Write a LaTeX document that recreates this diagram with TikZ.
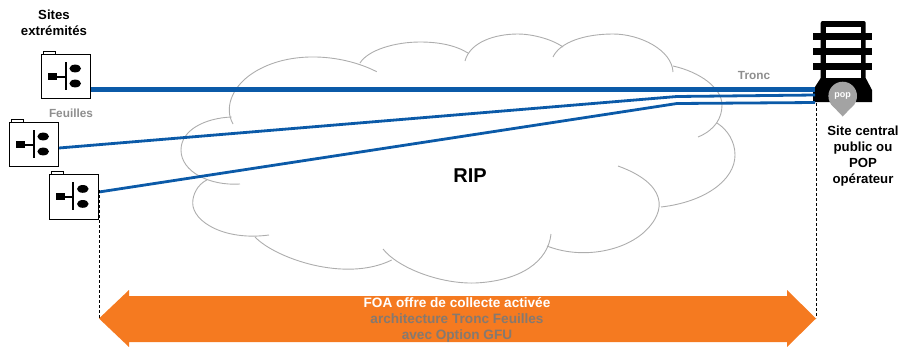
\documentclass[tikz,border=0pt]{standalone}
\usepackage{fontspec}
\setmainfont{Liberation Sans}
\usetikzlibrary{calc}
\definecolor{linkblue}{HTML}{0B5AA8}
\definecolor{cloudgray}{HTML}{ADADAD}
\definecolor{labelgray}{HTML}{8E8E8E}
\definecolor{popgray}{HTML}{A3A3A3}
\definecolor{arroworange}{HTML}{F57A20}
\definecolor{arrowtext}{HTML}{857970}
\tikzset{
  cloudarc/.style={draw=cloudgray,line width=0.9pt},
  trunkline/.style={draw=linkblue,line width=5pt},
  leafline/.style={draw=linkblue,line width=2.8pt,line join=round},
  guide/.style={draw=black,line width=0.8pt,dash pattern=on 3pt off 2pt},
  boldlabel/.style={font=\bfseries\fontsize{13.2}{16}\selectfont,align=center,inner sep=0pt,text=black},
  graylabel/.style={font=\bfseries\fontsize{11.8}{14}\selectfont,inner sep=0pt,text=labelgray},
  bandtext/.style={font=\bfseries\fontsize{13.6}{15}\selectfont,inner sep=0pt},
  sitebox/.style={draw=black,line width=1pt,fill=white,minimum width=49pt,minimum height=44.4pt,inner sep=0pt},
  site/.pic={
    \node[sitebox] (-box) at (0,0) {};
    \draw[line width=0.9pt,fill=white] (-22.5,-22.2) rectangle (-10.5,-25.5);
    \fill[black] (-18,-3.8) rectangle (-9,3.2);
    \draw[black,line width=2pt] (-9,0) -- (0,0);
    \draw[black,line width=2pt] (-0.5,-14.5) -- (-0.5,13.5);
    \fill[black] (9,-8) ellipse (5.8pt and 3.9pt);
    \fill[black] (9,7) ellipse (5.8pt and 3.9pt);
  }
}
\begin{document}
\begin{tikzpicture}[x=1pt,y=-1pt]
\useasboundingbox (0,0) rectangle (899,346);
% cloud
\draw[cloudarc] (376.7,71.7) .. controls (340,53) and (285,50) .. (250,75) .. controls (232,88) and (224,108) .. (233,124);
\draw[cloudarc] (231.7,117) .. controls (205,118) and (181,130) .. (181,150) .. controls (181,172) and (210,186) .. (240,184);
\draw[cloudarc] (206.7,180) .. controls (197,185) and (192.7,195) .. (192.7,203) .. controls (192.7,222) and (225,241) .. (269,235);
\draw[cloudarc] (255,237) .. controls (275,258) and (345,283) .. (391.7,260);
\draw[cloudarc] (383,249) .. controls (398,268) and (440,284) .. (475,283) .. controls (520,281) and (548,262) .. (551,234);
\draw[cloudarc] (547,246) .. controls (580,259) and (620,252) .. (642,234) .. controls (670,210) and (665,183) .. (618,166);
\draw[cloudarc] (661,207) .. controls (705,202) and (735,180) .. (735,155) .. controls (735,142) and (728,130) .. (717,123);
\draw[cloudarc] (698,137) .. controls (715,130) and (722,118) .. (722,105) .. controls (722,88) and (700,72) .. (673,66);
\draw[cloudarc] (673,72) .. controls (672,50) and (640,34) .. (613,34) .. controls (585,34) and (560,42) .. (553,57);
\draw[cloudarc] (563,47) .. controls (550,38) and (530,34) .. (518,34) .. controls (495,34) and (470,42) .. (465,61);
\draw[cloudarc] (360,63) .. controls (368,50) and (395,42) .. (420,42) .. controls (438,42) and (455,45) .. (468,53);
% sites
\pic (a) at (66.2,76.5) {site};
\pic (b) at (34.2,144.5) {site};
\pic (c) at (73.8,196.9) {site};
% building
\begin{scope}[black]
  \fill[rounded corners=2pt] (820.7,21) rectangle (865.7,80);
  \fill[white] (826,27) rectangle (860.7,33);
  \fill[white] (826,40) rectangle (860.7,48);
  \fill[white] (826,55) rectangle (860.7,63);
  \fill[white] (826,70) rectangle (860.7,78);
  \fill (813,33) rectangle (872,40);
  \fill (813,48) rectangle (872,55);
  \fill (813,63) rectangle (872,70);
  \fill (820.7,78) -- (813,90) -- (813,102) -- (872,102) -- (872,90) -- (865.7,78) -- cycle;
\end{scope}
% connector ends
\coordinate (t1) at (91,89);
\coordinate (t2) at (815,89);
\coordinate (l1) at (59,148);
\coordinate (l1k) at (677,96.5);
\coordinate (l1e) at (815,95);
\coordinate (l2) at (99,192);
\coordinate (l2k) at (677,103.5);
\coordinate (l2e) at (815,102.5);
\coordinate (gl0) at (99,190);
\coordinate (gl1) at (99,318);
\coordinate (gr0) at (816,103);
\coordinate (gr1) at (816,318);
\draw[trunkline] (t1) -- (t2);
\draw[leafline] (l1) -- (l1k) -- (l1e);
\draw[leafline] (l2) -- (l2k) -- (l2e);
\draw[guide] (gl0) -- (gl1);
\draw[guide] (gr0) -- (gr1);
% pop marker
\fill[popgray] (842.7,96) circle (14.3pt);
\fill[popgray] (830.8,104) -- (842.7,116.5) -- (854.6,104) -- cycle;
\node[font=\bfseries\fontsize{9}{10}\selectfont,text=white,inner sep=0pt] (pop) at (842.7,96) {pop};
% arrow
\fill[arroworange] (99,318.5) -- (129,290) -- (129,296) -- (787,296) -- (787,290) -- (816,318.5) -- (787,347) -- (787,342) -- (129,342) -- (129,347) -- cycle;
% labels
\node[boldlabel] (sites) at (54,23) {Sites\\extrémités};
\node[graylabel] (feuilles) at (71,113) {Feuilles};
\node[graylabel] (tronc) at (754,75) {Tronc};
\node[boldlabel] (central) at (863,156.5) {Site central\\public ou\\POP\\opérateur};
\node[font=\bfseries\fontsize{20}{24}\selectfont,inner sep=0pt] (rip) at (470,176) {RIP};
\node[bandtext,text=white] (foa) at (457,303) {FOA offre de collecte activée};
\node[bandtext,text=arrowtext] (archi) at (457,319) {architecture Tronc Feuilles};
\node[bandtext,text=arrowtext] (gfu) at (457,336) {avec Option GFU};
\end{tikzpicture}
\end{document}
